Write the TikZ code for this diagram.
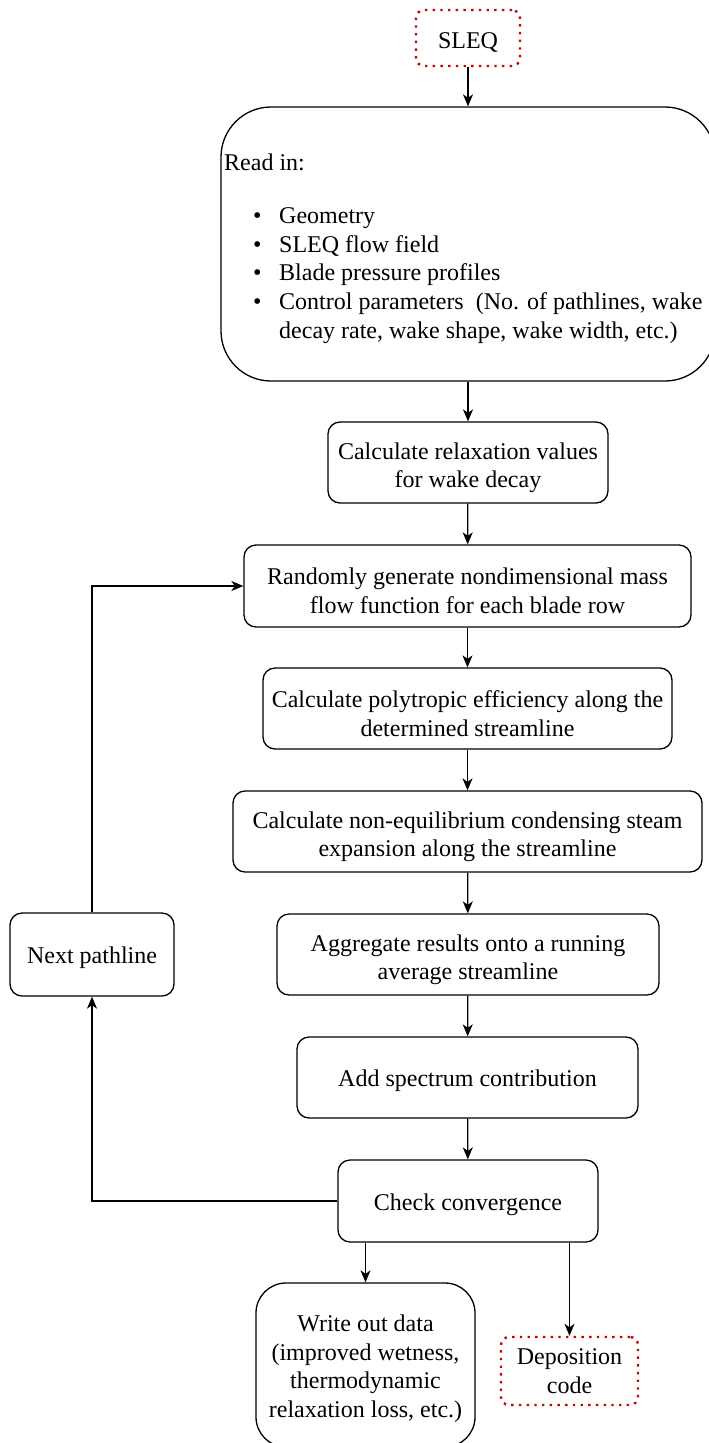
\documentclass[tikz,border=0pt]{standalone}
\usepackage{fontspec}
\setmainfont{Liberation Serif}
\usetikzlibrary{arrows.meta}
\definecolor{sred}{RGB}{204,0,0}
\newcommand\tstrut{\rule{0pt}{27pt}}
\newcommand\sstrut{\rule{0pt}{24pt}}
\tikzset{
  box/.style={draw, line width=1.3pt, rounded corners=12pt, align=center, inner sep=0pt,
              font=\fontsize{24}{28.8}\selectfont},
  redbox/.style={draw=sred, line width=2.4pt, dash pattern=on 2.4pt off 5.3pt,
                 rounded corners=8pt, align=center, inner sep=0pt,
                 font=\fontsize{24}{28.8}\selectfont},
  txt/.style={inner sep=0pt, anchor=base west, font=\fontsize{24}{28.8}\selectfont},
  arr/.style={line width=1.3pt, -{Stealth[length=12pt,width=10pt,inset=3.5pt]}}
}
\begin{document}
\begin{tikzpicture}[x=1pt,y=-1pt]
\useasboundingbox (0,0) rectangle (709,1443);
\clip (0,0) rectangle (709,1443);
% nodes
\node[redbox, minimum width=104pt, minimum height=56pt] (sleq) at (468,38) {\sstrut SLEQ};
\node[draw, line width=1.3pt, rounded corners=50pt, minimum width=494pt, minimum height=274pt] (readin) at (468,244) {};
\node[txt] (rl0) at (224,170) {Read in:};
\node[txt] (b1) at (253,223) {•};
\node[txt] (rl1) at (279,223) {Geometry};
\node[txt] (b2) at (253,252) {•};
\node[txt] (rl2) at (279,252) {SLEQ flow field};
\node[txt] (b3) at (253,280.5) {•};
\node[txt] (rl3) at (279,280.5) {Blade pressure profiles};
\node[txt] (b4) at (253,309) {•};
\node[txt] (rl4) at (279,309) {Control parameters\ \ (No. of pathlines, wake};
\node[txt] (rl5) at (279,338) {decay rate, wake shape, wake width, etc.)};
\node[box, minimum width=280pt, minimum height=81pt] (relax) at (468,462.5) {\tstrut Calculate relaxation values\\for wake decay};
\node[box, minimum width=447pt, minimum height=82pt] (random) at (467.5,586) {\tstrut Randomly generate nondimensional mass\\flow function for each blade row};
\node[box, minimum width=409pt, minimum height=81pt] (poly) at (467.5,708.5) {\tstrut Calculate polytropic efficiency along the\\determined streamline};
\node[box, minimum width=469pt, minimum height=81pt] (noneq) at (467.5,831.5) {\tstrut Calculate non-equilibrium condensing steam\\expansion along the streamline};
\node[box, minimum width=382pt, minimum height=81pt] (aggr) at (468,954.5) {\tstrut Aggregate results onto a running\\average streamline};
\node[box, minimum width=341pt, minimum height=81pt] (spec) at (467.5,1077.5) {\sstrut Add spectrum contribution};
\node[box, minimum width=260pt, minimum height=82pt] (check) at (468,1201) {\sstrut Check convergence};
\node[box, minimum width=164pt, minimum height=83pt] (next) at (92,954.5) {\sstrut Next pathline};
\node[box, rounded corners=30pt, minimum width=219pt, minimum height=164pt] (write) at (365.5,1365) {\sstrut Write out data\\(improved wetness,\\thermodynamic\\relaxation loss, etc.)};
\node[redbox, minimum width=137pt, minimum height=68pt] (depo) at (569.5,1371) {Deposition\\code};
% connectors
\draw[arr] (sleq) -- (readin);
\draw[arr] (readin) -- (relax);
\draw[arr] (relax) -- (random);
\draw[arr] (random) -- (poly);
\draw[arr] (poly) -- (noneq);
\draw[arr] (noneq) -- (aggr);
\draw[arr] (aggr) -- (spec);
\draw[arr] (spec) -- (check);
\draw[arr] (check.west) -| (next.south);
\draw[arr] (next.north) |- (random.west);
\draw[arr] (write.north |- check.south) -- (write.north);
\draw[arr] (depo.north |- check.south) -- (depo.north);
\end{tikzpicture}
\end{document}
